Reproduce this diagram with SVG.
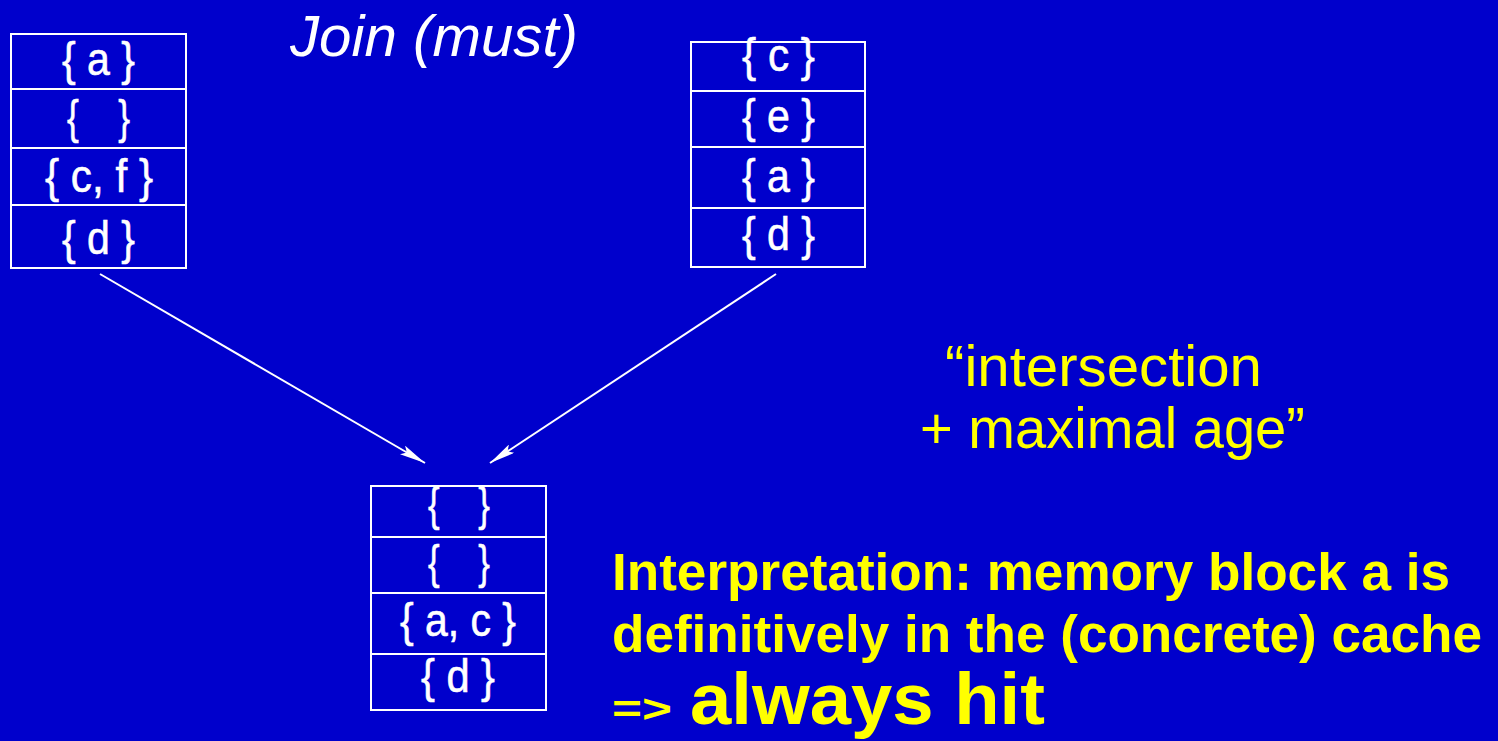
<svg xmlns="http://www.w3.org/2000/svg" width="1498" height="741" viewBox="0 0 1498 741">
<defs>
<style>
.box{fill:none;stroke:#fff;stroke-width:2}
.sep{stroke:#fff;stroke-width:2}
.cell{font-family:"Liberation Sans",sans-serif;font-size:46px;fill:#fff;stroke:#fff;stroke-width:0.6;white-space:pre}
.yl{font-family:"Liberation Sans",sans-serif;fill:#ffff00}
.conn{stroke:#fff;stroke-width:2;fill:none}
</style>
<marker id="ah" viewBox="0 0 26 10" refX="26" refY="5" markerWidth="26" markerHeight="10" markerUnits="userSpaceOnUse" orient="auto">
<path d="M0,0 L26,5 L0,10 L5,5 Z" fill="#fff"/>
</marker>
</defs>
<rect width="1498" height="741" fill="#0000cc"/>
<text x="290" y="56" font-family="Liberation Sans,sans-serif" font-style="italic" font-size="58" fill="#fff" textLength="288" lengthAdjust="spacingAndGlyphs">Join (must)</text>
<g id="left">
<rect class="box" x="11" y="34" width="175" height="234" stroke-width="3"/>
<line class="sep" x1="11" y1="89" x2="186" y2="89"/>
<line class="sep" x1="11" y1="148" x2="186" y2="148"/>
<line class="sep" x1="11" y1="205" x2="186" y2="205"/>
<text class="cell" x="62" y="75" textLength="73" lengthAdjust="spacingAndGlyphs">{ a }</text>
<text class="cell" x="67" y="133" textLength="63" lengthAdjust="spacingAndGlyphs">{    }</text>
<text class="cell" x="45" y="192" textLength="108" lengthAdjust="spacingAndGlyphs">{ c, f }</text>
<text class="cell" x="62" y="254" textLength="73" lengthAdjust="spacingAndGlyphs">{ d }</text>
</g>
<g id="right">
<rect class="box" x="691" y="42" width="174" height="225"/>
<line class="sep" x1="691" y1="91" x2="865" y2="91"/>
<line class="sep" x1="691" y1="147" x2="865" y2="147"/>
<line class="sep" x1="691" y1="208" x2="865" y2="208"/>
<text class="cell" x="742" y="71" textLength="73" lengthAdjust="spacingAndGlyphs">{ c }</text>
<text class="cell" x="742" y="132" textLength="73" lengthAdjust="spacingAndGlyphs">{ e }</text>
<text class="cell" x="742" y="192" textLength="73" lengthAdjust="spacingAndGlyphs">{ a }</text>
<text class="cell" x="742" y="250" textLength="73" lengthAdjust="spacingAndGlyphs">{ d }</text>
</g>
<g id="result">
<rect class="box" x="371" y="486" width="175" height="224"/>
<line class="sep" x1="371" y1="537" x2="546" y2="537"/>
<line class="sep" x1="371" y1="593" x2="546" y2="593"/>
<line class="sep" x1="371" y1="654" x2="546" y2="654"/>
<text class="cell" x="428" y="520" textLength="62" lengthAdjust="spacingAndGlyphs">{    }</text>
<text class="cell" x="428" y="578" textLength="62" lengthAdjust="spacingAndGlyphs">{    }</text>
<text class="cell" x="400" y="636" textLength="116" lengthAdjust="spacingAndGlyphs">{ a, c }</text>
<text class="cell" x="421" y="692" textLength="74" lengthAdjust="spacingAndGlyphs">{ d }</text>
</g>
<g id="connectors">
<line class="conn" x1="100" y1="274" x2="425" y2="463" marker-end="url(#ah)"/>
<line class="conn" x1="776" y1="274" x2="490" y2="463" marker-end="url(#ah)"/>
</g>
<g id="notes">
<text class="yl" x="945" y="386" font-size="58" textLength="317" lengthAdjust="spacingAndGlyphs">“intersection</text>
<text class="yl" x="920" y="448" font-size="58" textLength="385" lengthAdjust="spacingAndGlyphs">+ maximal age”</text>
<text class="yl" x="612" y="590" font-size="51" font-weight="bold" textLength="838" lengthAdjust="spacingAndGlyphs">Interpretation: memory block a is</text>
<text class="yl" x="612" y="652" font-size="51" font-weight="bold" textLength="870" lengthAdjust="spacingAndGlyphs">definitively in the (concrete) cache</text>
<text class="yl" x="612" y="722" font-size="38" font-weight="bold" textLength="60" lengthAdjust="spacingAndGlyphs">=&gt;</text>
<text class="yl" x="690" y="724" font-size="72" font-weight="bold" textLength="355" lengthAdjust="spacingAndGlyphs">always hit</text>
</g>
</svg>
